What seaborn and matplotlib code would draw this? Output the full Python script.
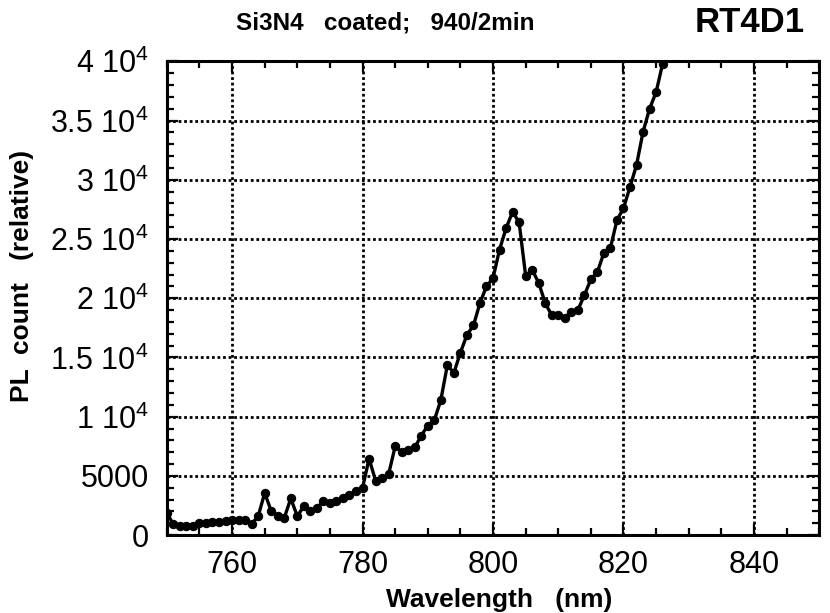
import numpy as np
import pandas as pd
import matplotlib
matplotlib.use("Agg")
import matplotlib.pyplot as plt
from matplotlib.ticker import MultipleLocator, FixedLocator
import seaborn as sns

# PL spectrum, one point per nm
wavelength = list(range(750, 827))
pl_count = [
    1900, 900, 750, 750, 800, 1050, 1050, 1100, 1100, 1200,
    1300, 1250, 1250, 950, 1600, 3550, 2050, 1650, 1450, 3100,
    1600, 2450, 2050, 2300, 2850, 2700, 2900, 3150, 3350, 3750,
    4000, 6450, 4600, 4800, 5150, 7500, 7000, 7200, 7400, 8400,
    9250, 9700, 11400, 14350, 13700, 15400, 16900, 17700, 19600, 21000,
    21700, 24100, 25900, 27300, 26400, 21900, 22400, 21300, 19600, 18550,
    18600, 18350, 18850, 19000, 20250, 21600, 22200, 23850, 24250, 26600,
    27600, 29400, 31250, 34050, 36000, 37400, 39800,
]

x_ticks = [760, 780, 800, 820, 840]
y_ticks = [0, 5000, 10000, 15000, 20000, 25000, 30000, 35000, 40000]
y_ticklabels = ["0", "5000", "1 10$^4$", "1.5 10$^4$", "2 10$^4$",
                "2.5 10$^4$", "3 10$^4$", "3.5 10$^4$", "4 10$^4$"]

sns.set_style("ticks")
plt.rcParams.update({
    "font.family": ["Liberation Sans", "DejaVu Sans"],
    "mathtext.fontset": "custom",
    "mathtext.rm": "Liberation Sans",
    "mathtext.default": "regular",
    "text.color": "black",
    "axes.labelcolor": "black",
    "xtick.color": "black",
    "ytick.color": "black",
})

df = pd.DataFrame({"wavelength": wavelength, "count": pl_count})

fig = plt.figure(figsize=(8.3, 6.13), dpi=100)
ax = fig.add_axes([0.201, 0.127, 0.786, 0.773])

sns.lineplot(data=df, x="wavelength", y="count", ax=ax, color="black",
             linewidth=2.4, marker="o", markersize=6, markeredgecolor="black",
             clip_on=True, zorder=3)

ax.set_xlim(750, 850)
ax.set_ylim(0, 40000)
ax.xaxis.set_major_locator(FixedLocator(x_ticks))
ax.xaxis.set_minor_locator(MultipleLocator(5))
ax.yaxis.set_major_locator(FixedLocator(y_ticks))
ax.yaxis.set_minor_locator(MultipleLocator(1000))
ax.set_yticklabels(y_ticklabels)

ax.tick_params(which="both", direction="in", top=True, right=True,
               labelsize=22, width=1.6, color="black", labelcolor="black")
ax.tick_params(which="major", length=8)
ax.tick_params(which="minor", length=5)
ax.tick_params(axis="y", which="major", pad=13)
ax.tick_params(axis="x", which="major", pad=11)

for s in ax.spines.values():
    s.set_linewidth(2.2)
    s.set_color("black")

ax.grid(True, which="major", color="black", linestyle=(0, (1, 1)),
        linewidth=2.0)

ax.set_xlabel("Wavelength   (nm)", fontsize=19, fontweight="bold")
ax.set_ylabel("PL  count   (relative)", fontsize=19, fontweight="bold")
ax.xaxis.set_label_coords(0.51, -0.112)
ax.yaxis.set_label_coords(-0.203, 0.546)

fig.text(0.464, 0.963, "Si3N4   coated;   940/2min", fontsize=17.5,
         fontweight="bold", ha="center", va="center")
fig.text(0.97, 0.963, "RT4D1", fontsize=25, fontweight="bold",
         ha="right", va="center")

fig.savefig("out.png", dpi=100)
